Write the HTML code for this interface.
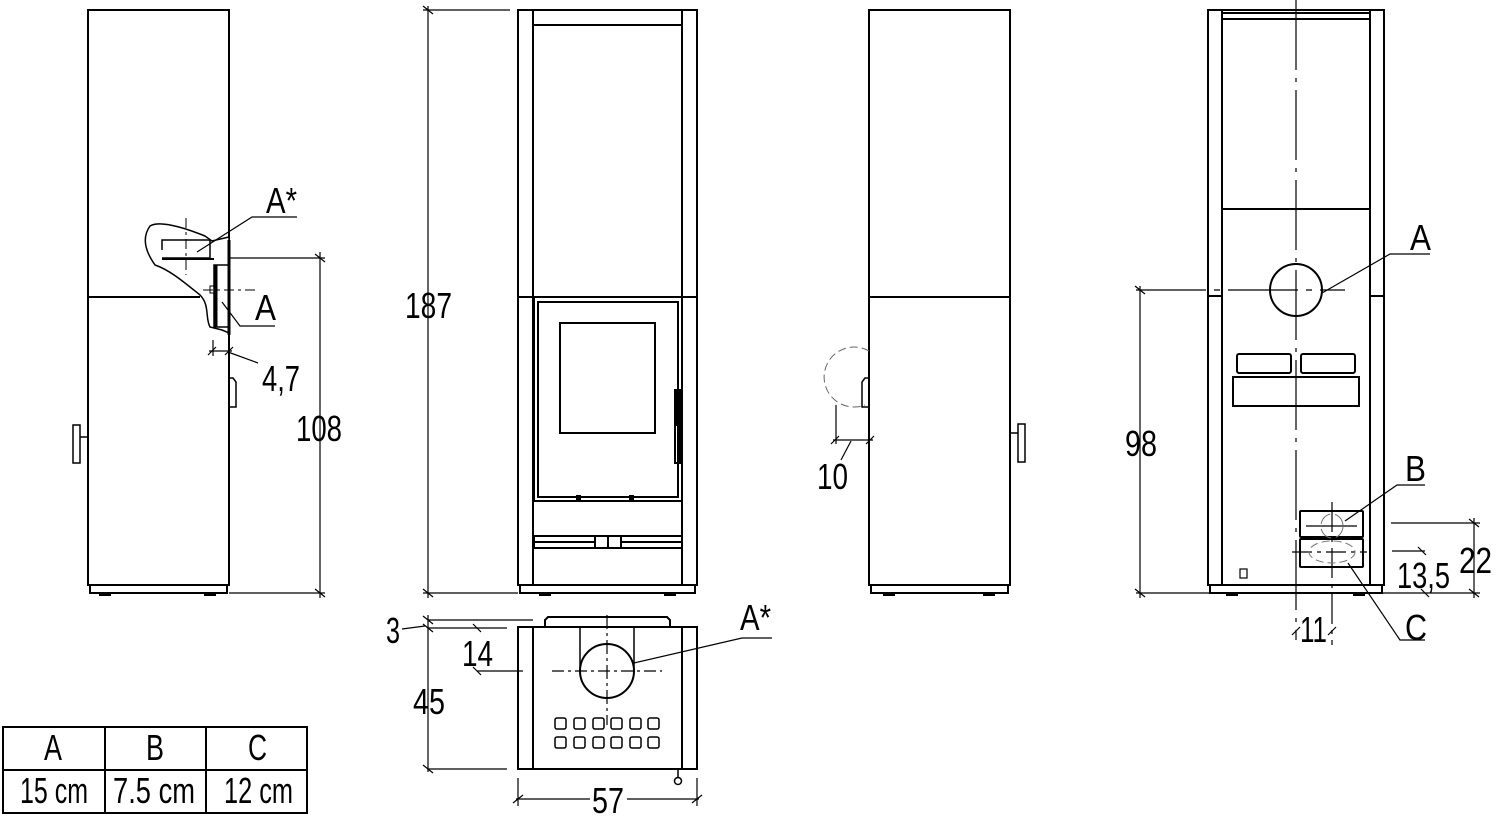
<!DOCTYPE html>
<html><head><meta charset="utf-8"><style>
html,body{margin:0;padding:0;background:#fff;}
svg{display:block}
text{font-family:"Liberation Sans",sans-serif;fill:#000;font-size:36px;}
</style></head><body>
<svg width="1500" height="818" viewBox="0 0 1500 818" xmlns="http://www.w3.org/2000/svg" fill="none" stroke="#000" stroke-width="2">
<!-- VIEW 1 -->
<g>
<rect x="88" y="10" width="141" height="575"/>
<line x1="88" y1="297" x2="200" y2="297"/>
<rect x="90" y="585" width="137" height="8"/>
<rect x="100" y="593" width="10" height="2" fill="#000"/><rect x="205" y="593" width="10" height="2" fill="#000"/>
<rect x="73" y="425" width="7" height="38" stroke-width="1.5"/><path d="M80 437 H88" stroke-width="1.5"/>
<path d="M229 378 h4 l3 4 v25 h-7" stroke-width="1.5"/>
<path d="M150 226 C160 220 185 228 205 236 L212 241 L229 237 L229 333 L222 330 L210 327 C205 318 210 305 200 295 C185 283 170 270 155 265 C148 255 140 240 150 226 Z" fill="#fff" stroke-width="1.5"/>
<path d="M162 250 V240 H210 V258 H162" stroke-width="1.5"/>
<line x1="162" y1="259" x2="214" y2="259" stroke-width="2"/>
<line x1="186" y1="218" x2="186" y2="275" stroke-width="1" stroke-dasharray="10,4,3,4"/>
<rect x="214" y="265" width="15" height="62" stroke-width="1.5"/>
<line x1="216" y1="265" x2="216" y2="327" stroke-width="3"/>
<line x1="229" y1="240" x2="229" y2="335" stroke-width="3"/>
<line x1="203" y1="290" x2="256" y2="290" stroke-width="1" stroke-dasharray="10,4,3,4"/>
<rect x="210" y="286" width="6" height="7" stroke-width="1"/>
<path d="M197 252 L252 217 H297" stroke-width="1.2"/>
<path d="M222 302 L240 326 H275" stroke-width="1.2"/>
<line x1="229" y1="258" x2="325" y2="258" stroke-width="1.2"/>
<line x1="229" y1="593" x2="325" y2="593" stroke-width="1.2"/>
<line x1="320" y1="252" x2="320" y2="598" stroke-width="1.2"/>
<path d="M315 254 L325 262 M315 589 L325 597" stroke-width="1.2"/>
<line x1="213" y1="340" x2="213" y2="356" stroke-width="1.2"/>
<line x1="209" y1="351" x2="232" y2="351" stroke-width="1.2"/>
<path d="M208 355 L216 347 M225 355 L233 347 M228 352 L258 363" stroke-width="1.2"/>
</g>
<g stroke="none">
<text x="266" y="213" textLength="31" lengthAdjust="spacingAndGlyphs">A*</text>
<text x="255" y="320" textLength="21" lengthAdjust="spacingAndGlyphs">A</text>
<text x="262" y="391" textLength="38" lengthAdjust="spacingAndGlyphs">4,7</text>
<text x="296" y="441" textLength="46" lengthAdjust="spacingAndGlyphs">108</text>
</g>
<!-- VIEW 2 -->
<g>
<rect x="518" y="10" width="179" height="575"/>
<line x1="533" y1="10" x2="533" y2="585"/><line x1="682" y1="10" x2="682" y2="585"/>
<line x1="533" y1="25" x2="682" y2="25"/>
<line x1="518" y1="297" x2="697" y2="297"/>
<rect x="534" y="297" width="148" height="204" stroke-width="2"/>
<rect x="538" y="302" width="140" height="195"/>
<rect x="560" y="323" width="95" height="110"/>
<rect x="675" y="390" width="5" height="35" fill="#000"/>
<rect x="675" y="425" width="5" height="38"/>
<rect x="577" y="496" width="3" height="4" fill="#000"/><rect x="630" y="496" width="3" height="4" fill="#000"/>
<rect x="534" y="536" width="148" height="12"/>
<line x1="534" y1="542" x2="682" y2="542"/>
<rect x="595" y="536" width="26" height="12" fill="#fff"/>
<line x1="608" y1="536" x2="608" y2="548"/>
<rect x="520" y="585" width="175" height="8"/>
<rect x="540" y="593" width="10" height="2" fill="#000"/><rect x="665" y="593" width="10" height="2" fill="#000"/>
<line x1="423" y1="10" x2="510" y2="10" stroke-width="1.2"/>
<line x1="423" y1="593" x2="518" y2="593" stroke-width="1.2"/>
<line x1="428" y1="6" x2="428" y2="598" stroke-width="1.2"/>
<path d="M423 6 L433 14 M423 589 L433 597" stroke-width="1.2"/>
</g>
<g stroke="none"><text x="405" y="318" textLength="47" lengthAdjust="spacingAndGlyphs">187</text></g>
<!-- TOP VIEW -->
<g>
<rect x="518" y="627" width="179" height="142"/>
<line x1="533" y1="627" x2="533" y2="769"/><line x1="682" y1="627" x2="682" y2="769"/>
<path d="M545 627 V620 L548 617 H667 L670 620 V627"/>
<line x1="547" y1="627" x2="668" y2="627"/>
<line x1="580" y1="627" x2="580" y2="670" stroke-width="1.5"/><line x1="634" y1="627" x2="634" y2="670" stroke-width="1.5"/>
<circle cx="607" cy="671" r="27" fill="#fff"/>
<line x1="607" y1="615" x2="607" y2="725" stroke-width="1.2" stroke-dasharray="14,4,3,4"/>
<line x1="552" y1="671" x2="662" y2="671" stroke-width="1.2" stroke-dasharray="12,4,3,4"/>
<g stroke-width="1.5">
<rect x="555" y="718" width="11" height="11" rx="2"/><rect x="574" y="718" width="11" height="11" rx="2"/><rect x="593" y="718" width="11" height="11" rx="2"/><rect x="611" y="718" width="11" height="11" rx="2"/><rect x="630" y="718" width="11" height="11" rx="2"/><rect x="648" y="718" width="11" height="11" rx="2"/>
<rect x="555" y="737" width="11" height="11" rx="2"/><rect x="574" y="737" width="11" height="11" rx="2"/><rect x="593" y="737" width="11" height="11" rx="2"/><rect x="611" y="737" width="11" height="11" rx="2"/><rect x="630" y="737" width="11" height="11" rx="2"/><rect x="648" y="737" width="11" height="11" rx="2"/>
</g>
<line x1="678" y1="769" x2="678" y2="778" stroke-width="1.5"/><circle cx="678" cy="781" r="3.5" stroke-width="1.5"/>
<g stroke-width="1.2">
<line x1="428" y1="615" x2="428" y2="772"/>
<line x1="428" y1="620" x2="533" y2="620"/>
<line x1="428" y1="628" x2="507" y2="628"/>
<line x1="428" y1="769" x2="507" y2="769"/>
<line x1="477" y1="671" x2="523" y2="671"/>
<path d="M423 616 L433 624 M423 624 L433 632 M423 765 L433 773 M473 624 L481 632 M473 667 L481 675"/>
<path d="M402 629 L425 626"/>
<line x1="518" y1="778" x2="518" y2="806"/><line x1="697" y1="778" x2="697" y2="806"/>
<line x1="516" y1="799" x2="590" y2="799"/><line x1="627" y1="799" x2="699" y2="799"/>
<path d="M513 803 L523 795 M692 803 L702 795"/>
<path d="M634 663 L742 638 H772"/>
</g>
</g>
<g stroke="none">
<text x="386" y="643" textLength="14" lengthAdjust="spacingAndGlyphs">3</text>
<text x="462" y="666" textLength="31" lengthAdjust="spacingAndGlyphs">14</text>
<text x="413" y="714" textLength="32" lengthAdjust="spacingAndGlyphs">45</text>
<text x="592" y="813" textLength="32" lengthAdjust="spacingAndGlyphs">57</text>
<text x="740" y="630" textLength="31" lengthAdjust="spacingAndGlyphs">A*</text>
</g>
<!-- VIEW 3 -->
<g>
<rect x="869" y="10" width="141" height="575"/>
<line x1="869" y1="297" x2="1010" y2="297"/>
<rect x="871" y="585" width="137" height="8"/>
<rect x="884" y="593" width="10" height="2" fill="#000"/><rect x="984" y="593" width="10" height="2" fill="#000"/>
<path d="M869 378 h-4 l-3 4 v25 h7" stroke-width="1.5"/>
<rect x="1018" y="424" width="7" height="38" stroke-width="1.5"/><path d="M1010 433 H1018" stroke-width="1.5"/>
<path d="M869 351 A30 30 0 1 0 865 405" stroke-width="1" stroke="#666" stroke-dasharray="8,4"/>
<g stroke-width="1.2">
<line x1="836" y1="405" x2="836" y2="444"/>
<line x1="833" y1="440" x2="873" y2="440"/>
<path d="M831 444 L839 436 M866 444 L874 436 M851 441 L841 460"/>
</g>
</g>
<g stroke="none"><text x="817" y="489" textLength="31" lengthAdjust="spacingAndGlyphs">10</text></g>
<!-- VIEW 4 -->
<g>
<rect x="1208" y="10" width="176" height="575"/>
<line x1="1222" y1="10" x2="1222" y2="585"/><line x1="1370" y1="10" x2="1370" y2="585"/>
<line x1="1222" y1="13" x2="1370" y2="13"/><line x1="1222" y1="19" x2="1370" y2="19"/>
<line x1="1222" y1="209" x2="1370" y2="209"/>
<line x1="1208" y1="296" x2="1222" y2="296"/><line x1="1370" y1="296" x2="1384" y2="296"/>
<circle cx="1296" cy="290" r="26"/>
<line x1="1296" y1="0" x2="1296" y2="640" stroke-width="1.2" stroke-dasharray="70,8,4,8"/>
<line x1="1136" y1="290" x2="1345" y2="290" stroke-width="1.2" stroke-dasharray="70,8,6,8"/>
<rect x="1237" y="354" width="54" height="19" rx="2"/>
<rect x="1301" y="354" width="54" height="19" rx="2"/>
<rect x="1233" y="377" width="126" height="29"/>
<rect x="1300" y="511" width="63" height="26" rx="1"/>
<rect x="1300" y="539" width="63" height="28" rx="1"/>
<line x1="1332" y1="502" x2="1332" y2="645" stroke-width="1.2" stroke-dasharray="30,6,4,6"/>
<line x1="1306" y1="526" x2="1357" y2="526" stroke-width="1.2"/>
<line x1="1292" y1="552" x2="1367" y2="552" stroke-width="1.2" stroke-dasharray="20,5,4,5"/>
<ellipse cx="1332" cy="526" rx="11" ry="12" stroke="#777" stroke-width="1" stroke-dasharray="14,5"/>
<ellipse cx="1332" cy="552" rx="23" ry="11" stroke="#777" stroke-width="1" stroke-dasharray="8,4"/>
<rect x="1240" y="569" width="7" height="9" stroke-width="1.2"/>
<rect x="1210" y="585" width="172" height="8"/>
<rect x="1227" y="593" width="10" height="2" fill="#000"/><rect x="1354" y="593" width="10" height="2" fill="#000"/>
<g stroke-width="1.2">
<line x1="1136" y1="593" x2="1480" y2="593"/>
<line x1="1140" y1="286" x2="1140" y2="598"/>
<path d="M1135 286 L1145 294 M1135 589 L1145 597"/>
<path d="M1322 293 L1390 254 H1430"/>
<path d="M1345 521 L1397 485 H1425"/>
<path d="M1348 563 L1400 640 H1425"/>
<line x1="1391" y1="523" x2="1480" y2="523"/>
<line x1="1474" y1="518" x2="1474" y2="598"/>
<path d="M1469 519 L1479 527 M1469 589 L1479 597"/>
<line x1="1392" y1="551" x2="1425" y2="551"/>
<path d="M1418 547 L1426 555 M1421 589 L1429 597"/>
<path d="M1292 635 L1300 627 M1328 635 L1336 627"/>
</g>
</g>
<g stroke="none">
<text x="1410" y="250" textLength="21" lengthAdjust="spacingAndGlyphs">A</text>
<text x="1125" y="456" textLength="32" lengthAdjust="spacingAndGlyphs">98</text>
<text x="1405" y="481" textLength="21" lengthAdjust="spacingAndGlyphs">B</text>
<text x="1459" y="573" textLength="33" lengthAdjust="spacingAndGlyphs">22</text>
<text x="1397" y="588" textLength="53" lengthAdjust="spacingAndGlyphs">13,5</text>
<text x="1300" y="642" textLength="27" lengthAdjust="spacingAndGlyphs">11</text>
<text x="1405" y="640" textLength="22" lengthAdjust="spacingAndGlyphs">C</text>
</g>
<!-- TABLE -->
<g stroke-width="2">
<rect x="3" y="727" width="304" height="86"/>
<line x1="105" y1="727" x2="105" y2="813"/><line x1="206" y1="727" x2="206" y2="813"/>
<line x1="3" y1="770" x2="307" y2="770"/>
</g>
<g stroke="none">
<text x="44" y="760" font-size="30" textLength="18" lengthAdjust="spacingAndGlyphs">A</text>
<text x="146" y="760" font-size="30" textLength="18" lengthAdjust="spacingAndGlyphs">B</text>
<text x="248" y="760" font-size="30" textLength="19" lengthAdjust="spacingAndGlyphs">C</text>
<text x="20" y="803" font-size="30" textLength="68" lengthAdjust="spacingAndGlyphs">15 cm</text>
<text x="113" y="803" font-size="30" textLength="82" lengthAdjust="spacingAndGlyphs">7.5 cm</text>
<text x="224" y="803" font-size="30" textLength="69" lengthAdjust="spacingAndGlyphs">12 cm</text>
</g>
</svg>
</body></html>
